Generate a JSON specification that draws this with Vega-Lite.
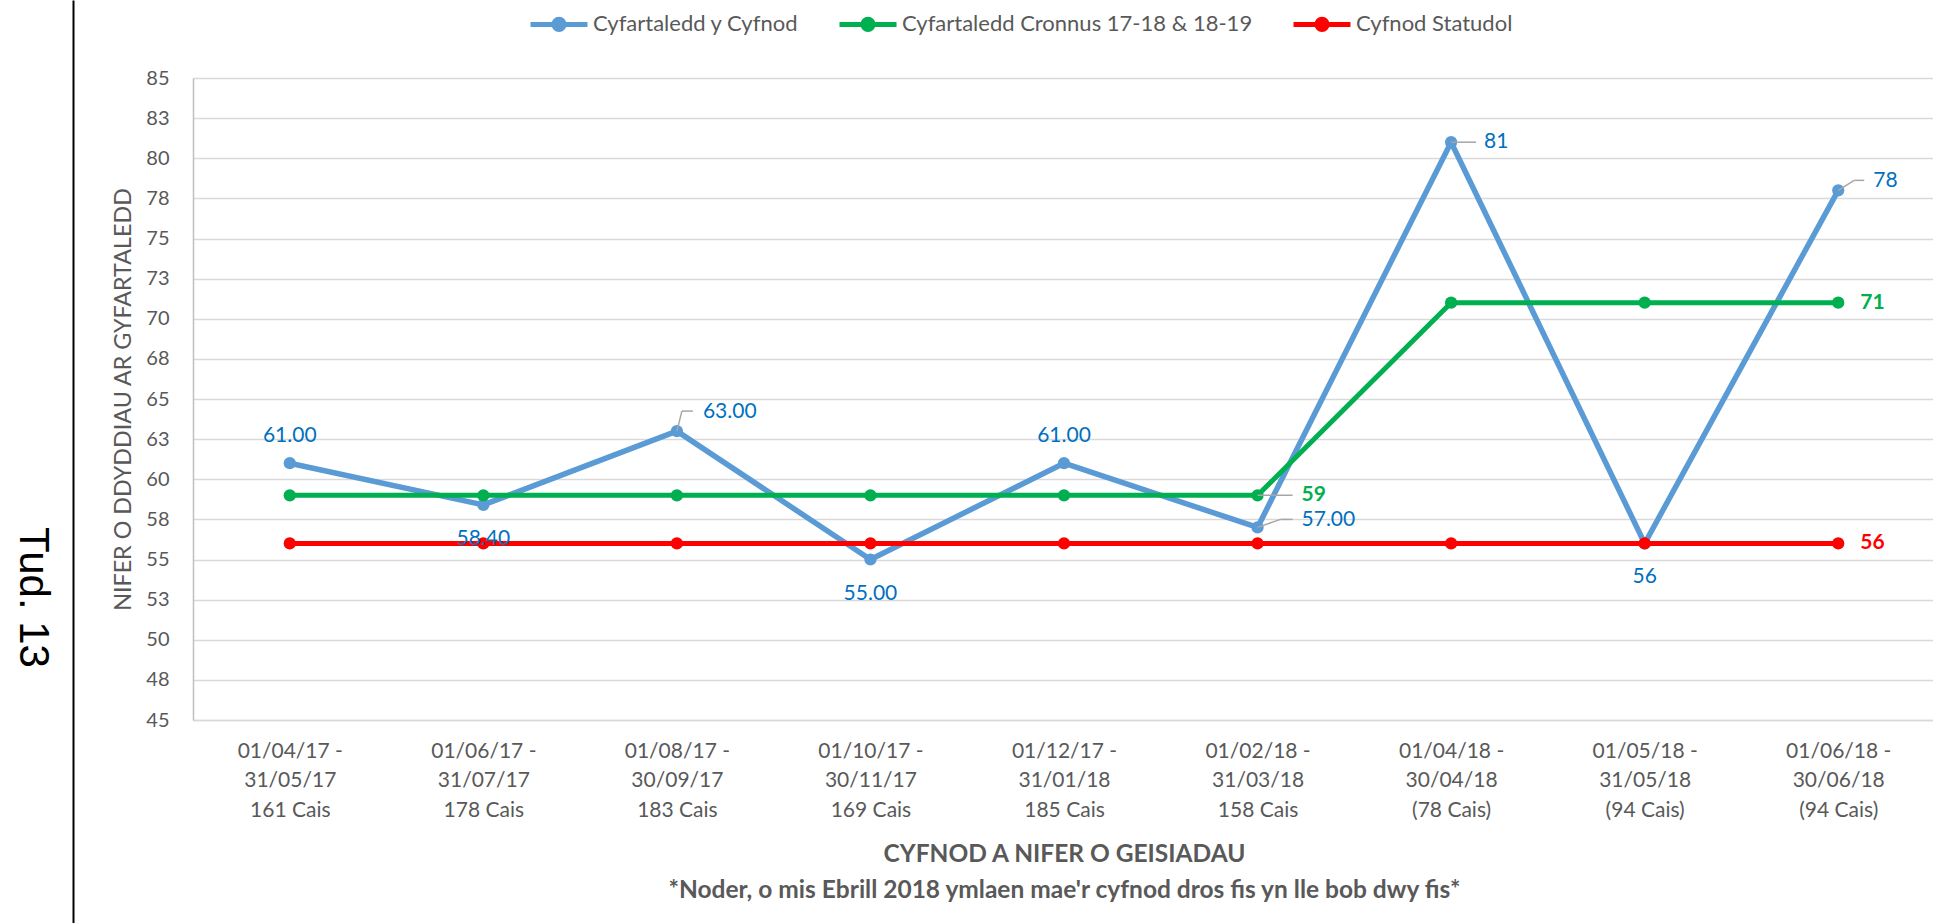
{
  "$schema": "https://vega.github.io/schema/vega-lite/v6.json",
  "width": 1742,
  "height": 642,
  "autosize": {"type": "none"},
  "padding": {"left": 193, "top": 78, "right": 0, "bottom": 203},
  "background": "white",
  "config": {"view": {"stroke": null}, "font": "Lato", "text": {"font": "Lato", "fontSize": 21}},
  "data": {"values": [
    {"period": "01/04/17 -|31/05/17|161 Cais", "series": "Cyfartaledd y Cyfnod", "value": 61, "label": "61.00"},
    {"period": "01/06/17 -|31/07/17|178 Cais", "series": "Cyfartaledd y Cyfnod", "value": 58.4, "label": "58.40"},
    {"period": "01/08/17 -|30/09/17|183 Cais", "series": "Cyfartaledd y Cyfnod", "value": 63, "label": "63.00"},
    {"period": "01/10/17 -|30/11/17|169 Cais", "series": "Cyfartaledd y Cyfnod", "value": 55, "label": "55.00"},
    {"period": "01/12/17 -|31/01/18|185 Cais", "series": "Cyfartaledd y Cyfnod", "value": 61, "label": "61.00"},
    {"period": "01/02/18 -|31/03/18|158 Cais", "series": "Cyfartaledd y Cyfnod", "value": 57, "label": "57.00"},
    {"period": "01/04/18 -|30/04/18|(78 Cais)", "series": "Cyfartaledd y Cyfnod", "value": 81, "label": "81"},
    {"period": "01/05/18 -|31/05/18|(94 Cais)", "series": "Cyfartaledd y Cyfnod", "value": 56, "label": "56"},
    {"period": "01/06/18 -|30/06/18|(94 Cais)", "series": "Cyfartaledd y Cyfnod", "value": 78, "label": "78"},
    {"period": "01/04/17 -|31/05/17|161 Cais", "series": "Cyfartaledd Cronnus 17-18 & 18-19", "value": 59, "label": null},
    {"period": "01/06/17 -|31/07/17|178 Cais", "series": "Cyfartaledd Cronnus 17-18 & 18-19", "value": 59, "label": null},
    {"period": "01/08/17 -|30/09/17|183 Cais", "series": "Cyfartaledd Cronnus 17-18 & 18-19", "value": 59, "label": null},
    {"period": "01/10/17 -|30/11/17|169 Cais", "series": "Cyfartaledd Cronnus 17-18 & 18-19", "value": 59, "label": null},
    {"period": "01/12/17 -|31/01/18|185 Cais", "series": "Cyfartaledd Cronnus 17-18 & 18-19", "value": 59, "label": null},
    {"period": "01/02/18 -|31/03/18|158 Cais", "series": "Cyfartaledd Cronnus 17-18 & 18-19", "value": 59, "label": "59"},
    {"period": "01/04/18 -|30/04/18|(78 Cais)", "series": "Cyfartaledd Cronnus 17-18 & 18-19", "value": 71, "label": null},
    {"period": "01/05/18 -|31/05/18|(94 Cais)", "series": "Cyfartaledd Cronnus 17-18 & 18-19", "value": 71, "label": null},
    {"period": "01/06/18 -|30/06/18|(94 Cais)", "series": "Cyfartaledd Cronnus 17-18 & 18-19", "value": 71, "label": "71"},
    {"period": "01/04/17 -|31/05/17|161 Cais", "series": "Cyfnod Statudol", "value": 56, "label": null},
    {"period": "01/06/17 -|31/07/17|178 Cais", "series": "Cyfnod Statudol", "value": 56, "label": null},
    {"period": "01/08/17 -|30/09/17|183 Cais", "series": "Cyfnod Statudol", "value": 56, "label": null},
    {"period": "01/10/17 -|30/11/17|169 Cais", "series": "Cyfnod Statudol", "value": 56, "label": null},
    {"period": "01/12/17 -|31/01/18|185 Cais", "series": "Cyfnod Statudol", "value": 56, "label": null},
    {"period": "01/02/18 -|31/03/18|158 Cais", "series": "Cyfnod Statudol", "value": 56, "label": null},
    {"period": "01/04/18 -|30/04/18|(78 Cais)", "series": "Cyfnod Statudol", "value": 56, "label": null},
    {"period": "01/05/18 -|31/05/18|(94 Cais)", "series": "Cyfnod Statudol", "value": 56, "label": null},
    {"period": "01/06/18 -|30/06/18|(94 Cais)", "series": "Cyfnod Statudol", "value": 56, "label": "56"}
  ]},
  "layer": [
    {
      "encoding": {
        "x": {
          "field": "period", "type": "nominal", "sort": null,
          "scale": {"type": "point", "padding": 0.5, "domain": [
            "01/04/17 -|31/05/17|161 Cais", "01/06/17 -|31/07/17|178 Cais", "01/08/17 -|30/09/17|183 Cais",
            "01/10/17 -|30/11/17|169 Cais", "01/12/17 -|31/01/18|185 Cais", "01/02/18 -|31/03/18|158 Cais",
            "01/04/18 -|30/04/18|(78 Cais)", "01/05/18 -|31/05/18|(94 Cais)", "01/06/18 -|30/06/18|(94 Cais)"]},
          "axis": {
            "title": ["CYFNOD A NIFER O GEISIADAU", "*Noder, o mis Ebrill 2018 ymlaen mae'r cyfnod dros fis yn lle bob dwy fis*"],
            "labelExpr": "split(datum.value, '|')",
            "labelAngle": 0, "labelFont": "Lato", "labelFontSize": 21, "labelColor": "#595959",
            "labelLineHeight": 29.5, "labelPadding": 20, "labelBaseline": "top", "labelLimit": 0,
            "ticks": false, "tickSize": 0, "domainColor": "#D9D9D9", "domainWidth": 1.5, "grid": false,
            "titleFont": "Lato", "titleFontSize": 24.5, "titleFontWeight": "bold", "titleColor": "#595959",
            "titleLineHeight": 36, "titleY": 134, "titleBaseline": "middle"
          }
        },
        "y": {
          "field": "value", "type": "quantitative",
          "scale": {"domain": [45, 85], "nice": false, "zero": false},
          "axis": {
            "title": "NIFER O DDYDDIAU AR GYFARTALEDD",
            "values": [45, 47.5, 50, 52.5, 55, 57.5, 60, 62.5, 65, 67.5, 70, 72.5, 75, 77.5, 80, 82.5, 85],
            "format": ".0f", "labelFont": "Lato", "labelFontSize": 20, "labelColor": "#595959",
            "labelPadding": 24, "ticks": false, "tickSize": 0,
            "domainColor": "#BFBFBF", "domainWidth": 1.5, "gridColor": "#D9D9D9", "gridWidth": 1.5,
            "titleFont": "Lato", "titleFontSize": 23.3, "titleFontWeight": "normal", "titleColor": "#595959",
            "titleX": -70, "titleBaseline": "middle"
          }
        },
        "color": {
          "field": "series", "type": "nominal",
          "scale": {"domain": ["Cyfartaledd y Cyfnod", "Cyfartaledd Cronnus 17-18 & 18-19", "Cyfnod Statudol"],
                    "range": ["#5B9BD5", "#00B050", "#FF0000"]},
          "legend": {
            "orient": "none", "legendX": 335, "legendY": -85, "direction": "horizontal", "title": null,
            "symbolType": "M-1,0H1M-0.18,0A0.18,0.18 0 1,1 0.18,0A0.18,0.18 0 1,1 -0.18,0Z",
            "symbolSize": 3249, "symbolStrokeWidth": 5,
            "labelFont": "Lato", "labelFontSize": 22, "labelColor": "#595959", "labelOffset": 3, "labelLimit": 0,
            "columnPadding": 30, "padding": 0,
            "encode": {"symbols": {"update": {"fill": {"scale": "color", "field": "value"}, "stroke": {"scale": "color", "field": "value"}, "opacity": {"value": 1}}}}
          }
        }
      },
      "layer": [
        {
          "transform": [{"filter": {"field": "series", "equal": "Cyfartaledd y Cyfnod"}}],
          "mark": {"type": "line", "strokeWidth": 5.5, "strokeCap": "round", "strokeJoin": "round", "point": {"filled": true, "size": 150, "opacity": 1}}
        },
        {
          "transform": [{"filter": {"field": "series", "equal": "Cyfartaledd Cronnus 17-18 & 18-19"}}],
          "mark": {"type": "line", "strokeWidth": 5, "strokeCap": "round", "strokeJoin": "round", "point": {"filled": true, "size": 150, "opacity": 1}}
        },
        {
          "transform": [{"filter": {"field": "series", "equal": "Cyfnod Statudol"}}],
          "mark": {"type": "line", "strokeWidth": 5, "strokeCap": "round", "strokeJoin": "round", "point": {"filled": true, "size": 150, "opacity": 1}}
        },
        {
          "transform": [{"filter": {"and": [{"field": "series", "equal": "Cyfartaledd y Cyfnod"}, {"field": "period", "oneOf": ["01/08/17 -|30/09/17|183 Cais"]}]}}],
          "mark": {"type": "rule", "strokeWidth": 1.5, "x2Offset": 5, "y2Offset": -20},
          "encoding": {"x2": {"field": "period"}, "y2": {"field": "value"}, "color": {"value": "#A6A6A6"}}
        },
        {
          "transform": [{"filter": {"and": [{"field": "series", "equal": "Cyfartaledd y Cyfnod"}, {"field": "period", "oneOf": ["01/08/17 -|30/09/17|183 Cais"]}]}}],
          "mark": {"type": "rule", "strokeWidth": 1.5, "xOffset": 5, "yOffset": -20, "x2Offset": 16, "y2Offset": -20},
          "encoding": {"x2": {"field": "period"}, "y2": {"field": "value"}, "color": {"value": "#A6A6A6"}}
        },
        {
          "transform": [{"filter": {"and": [{"field": "series", "equal": "Cyfartaledd y Cyfnod"}, {"field": "period", "oneOf": ["01/02/18 -|31/03/18|158 Cais"]}]}}],
          "mark": {"type": "rule", "strokeWidth": 1.5, "x2Offset": 23, "y2Offset": -8},
          "encoding": {"x2": {"field": "period"}, "y2": {"field": "value"}, "color": {"value": "#A6A6A6"}}
        },
        {
          "transform": [{"filter": {"and": [{"field": "series", "equal": "Cyfartaledd y Cyfnod"}, {"field": "period", "oneOf": ["01/02/18 -|31/03/18|158 Cais"]}]}}],
          "mark": {"type": "rule", "strokeWidth": 1.5, "xOffset": 23, "yOffset": -8, "x2Offset": 35, "y2Offset": -8},
          "encoding": {"x2": {"field": "period"}, "y2": {"field": "value"}, "color": {"value": "#A6A6A6"}}
        },
        {
          "transform": [{"filter": {"and": [{"field": "series", "equal": "Cyfartaledd y Cyfnod"}, {"field": "period", "oneOf": ["01/04/18 -|30/04/18|(78 Cais)"]}]}}],
          "mark": {"type": "rule", "strokeWidth": 1.5, "x2Offset": 25},
          "encoding": {"x2": {"field": "period"}, "y2": {"field": "value"}, "color": {"value": "#A6A6A6"}}
        },
        {
          "transform": [{"filter": {"and": [{"field": "series", "equal": "Cyfartaledd y Cyfnod"}, {"field": "period", "oneOf": ["01/06/18 -|30/06/18|(94 Cais)"]}]}}],
          "mark": {"type": "rule", "strokeWidth": 1.5, "x2Offset": 16, "y2Offset": -10},
          "encoding": {"x2": {"field": "period"}, "y2": {"field": "value"}, "color": {"value": "#A6A6A6"}}
        },
        {
          "transform": [{"filter": {"and": [{"field": "series", "equal": "Cyfartaledd y Cyfnod"}, {"field": "period", "oneOf": ["01/06/18 -|30/06/18|(94 Cais)"]}]}}],
          "mark": {"type": "rule", "strokeWidth": 1.5, "xOffset": 16, "yOffset": -10, "x2Offset": 26, "y2Offset": -10},
          "encoding": {"x2": {"field": "period"}, "y2": {"field": "value"}, "color": {"value": "#A6A6A6"}}
        },
        {
          "transform": [{"filter": {"and": [{"field": "series", "equal": "Cyfartaledd Cronnus 17-18 & 18-19"}, {"field": "period", "oneOf": ["01/02/18 -|31/03/18|158 Cais"]}]}}],
          "mark": {"type": "rule", "strokeWidth": 1.5, "x2Offset": 35},
          "encoding": {"x2": {"field": "period"}, "y2": {"field": "value"}, "color": {"value": "#A6A6A6"}}
        },
        {
          "transform": [{"filter": {"and": [{"field": "series", "equal": "Cyfartaledd y Cyfnod"}, {"field": "period", "oneOf": ["01/04/17 -|31/05/17|161 Cais", "01/12/17 -|31/01/18|185 Cais"]}]}}],
          "mark": {"type": "text", "align": "center", "baseline": "middle", "dy": -27},
          "encoding": {"text": {"field": "label"}, "color": {"value": "#0070C0"}}
        },
        {
          "transform": [{"filter": {"and": [{"field": "series", "equal": "Cyfartaledd y Cyfnod"}, {"field": "period", "oneOf": ["01/06/17 -|31/07/17|178 Cais", "01/10/17 -|30/11/17|169 Cais", "01/05/18 -|31/05/18|(94 Cais)"]}]}}],
          "mark": {"type": "text", "align": "center", "baseline": "middle", "dy": 34},
          "encoding": {"text": {"field": "label"}, "color": {"value": "#0070C0"}}
        },
        {
          "transform": [{"filter": {"and": [{"field": "series", "equal": "Cyfartaledd y Cyfnod"}, {"field": "period", "oneOf": ["01/08/17 -|30/09/17|183 Cais"]}]}}],
          "mark": {"type": "text", "align": "left", "baseline": "middle", "dx": 26, "dy": -19},
          "encoding": {"text": {"field": "label"}, "color": {"value": "#0070C0"}}
        },
        {
          "transform": [{"filter": {"and": [{"field": "series", "equal": "Cyfartaledd y Cyfnod"}, {"field": "period", "oneOf": ["01/02/18 -|31/03/18|158 Cais"]}]}}],
          "mark": {"type": "text", "align": "left", "baseline": "middle", "dx": 44, "dy": -7},
          "encoding": {"text": {"field": "label"}, "color": {"value": "#0070C0"}}
        },
        {
          "transform": [{"filter": {"and": [{"field": "series", "equal": "Cyfartaledd y Cyfnod"}, {"field": "period", "oneOf": ["01/04/18 -|30/04/18|(78 Cais)"]}]}}],
          "mark": {"type": "text", "align": "left", "baseline": "middle", "dx": 33, "dy": 0},
          "encoding": {"text": {"field": "label"}, "color": {"value": "#0070C0"}}
        },
        {
          "transform": [{"filter": {"and": [{"field": "series", "equal": "Cyfartaledd y Cyfnod"}, {"field": "period", "oneOf": ["01/06/18 -|30/06/18|(94 Cais)"]}]}}],
          "mark": {"type": "text", "align": "left", "baseline": "middle", "dx": 35, "dy": -9},
          "encoding": {"text": {"field": "label"}, "color": {"value": "#0070C0"}}
        },
        {
          "transform": [{"filter": {"and": [{"field": "series", "equal": "Cyfartaledd Cronnus 17-18 & 18-19"}, {"field": "period", "oneOf": ["01/02/18 -|31/03/18|158 Cais"]}]}}],
          "mark": {"type": "text", "align": "left", "baseline": "middle", "dx": 44, "fontWeight": "bold"},
          "encoding": {"text": {"field": "label"}, "color": {"value": "#00B050"}}
        },
        {
          "transform": [{"filter": {"and": [{"field": "series", "equal": "Cyfartaledd Cronnus 17-18 & 18-19"}, {"field": "period", "oneOf": ["01/06/18 -|30/06/18|(94 Cais)"]}]}}],
          "mark": {"type": "text", "align": "left", "baseline": "middle", "dx": 22, "fontWeight": "bold"},
          "encoding": {"text": {"field": "label"}, "color": {"value": "#00B050"}}
        },
        {
          "transform": [{"filter": {"and": [{"field": "series", "equal": "Cyfnod Statudol"}, {"field": "period", "oneOf": ["01/06/18 -|30/06/18|(94 Cais)"]}]}}],
          "mark": {"type": "text", "align": "left", "baseline": "middle", "dx": 22, "fontWeight": "bold"},
          "encoding": {"text": {"field": "label"}, "color": {"value": "#FF0000"}}
        }
      ]
    },
    {
      "transform": [{"filter": {"field": "series", "equal": "Cyfnod Statudol"}}],
      "mark": {"type": "point", "opacity": 0},
      "encoding": {
        "y": {
          "field": "value", "type": "quantitative",
          "scale": {"domain": [45, 85], "range": [845, -78], "nice": false, "zero": false},
          "axis": {
            "orient": "left", "offset": 120, "domainColor": "black", "domainWidth": 2,
            "ticks": false, "labels": false, "grid": false,
            "title": "Tud. 13", "titleAngle": 90, "titleFont": "Liberation Sans", "titleFontSize": 42,
            "titleFontWeight": "normal", "titleColor": "black", "titleX": -41, "titleY": 519,
            "titleAlign": "center", "titleBaseline": "middle"
          }
        }
      }
    }
  ],
  "resolve": {"scale": {"y": "independent"}, "axis": {"y": "independent"}}
}
